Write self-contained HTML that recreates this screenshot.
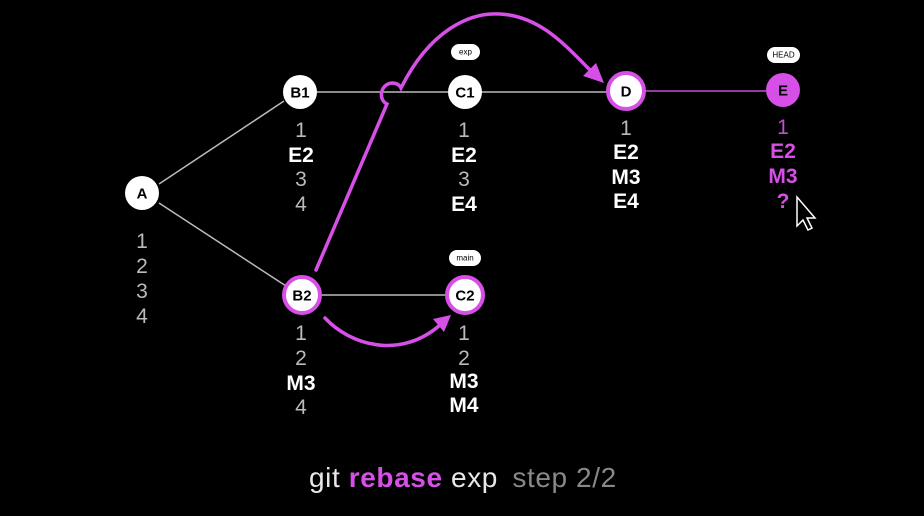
<!DOCTYPE html>
<html><head><meta charset="utf-8"><style>
html,body{margin:0;padding:0;background:#000;width:924px;height:516px;overflow:hidden}
svg{display:block}
text{font-family:"Liberation Sans",sans-serif}
.n{font-weight:bold;font-size:15px;fill:#000;text-anchor:middle;dominant-baseline:central}
.l{font-size:21px;fill:#bbb;text-anchor:middle;font-weight:normal}
.b{font-size:21px;fill:#fff;text-anchor:middle;font-weight:bold}
.p{font-size:21px;fill:#d64fe6;text-anchor:middle;font-weight:bold}
.tag{font-size:8px;fill:#000;text-anchor:middle;dominant-baseline:central}
</style></head><body>
<svg width="924" height="516" viewBox="0 0 924 516">
<rect width="924" height="516" fill="#000"/>
<g stroke="#bbb" stroke-width="1.5" fill="none">
<line x1="159" y1="184" x2="284" y2="101"/>
<line x1="159" y1="203" x2="286" y2="286"/>
<line x1="317" y1="92" x2="448" y2="92"/>
<line x1="482" y1="92" x2="608" y2="92"/>
<line x1="320" y1="295" x2="447" y2="295"/>
</g>
<line x1="644" y1="91" x2="766" y2="91" stroke="#c050d0" stroke-width="1.5"/>
<g stroke="#d64fe6" stroke-width="3.5" fill="none" stroke-linecap="round">
<path d="M316 270 L387 104 C378 100 380 84 392 83 C398 83 400 86 401 88 C430 30 470 12 500 14 C540 16 565 45 592 72"/>
<path d="M325 318 C350 345 400 360 440 325"/>
</g>
<polygon points="604,83 583,76 596,63" fill="#d64fe6"/>
<polygon points="451,315 433,319 444,332" fill="#d64fe6"/>
<g fill="#fff">
<circle cx="142" cy="193" r="17"/>
<circle cx="300" cy="92" r="17"/>
<circle cx="465" cy="92" r="17"/>
</g>
<g fill="#fff" stroke="#d64fe6" stroke-width="4">
<circle cx="626" cy="91" r="18"/>
<circle cx="302" cy="295" r="18"/>
<circle cx="465" cy="295" r="18"/>
</g>
<circle cx="783" cy="90" r="17" fill="#d64fe6"/>
<text class="n" x="142" y="194">A</text>
<text class="n" x="300" y="93">B1</text>
<text class="n" x="465" y="93">C1</text>
<text class="n" x="626" y="92">D</text>
<text class="n" x="783" y="91">E</text>
<text class="n" x="302" y="296">B2</text>
<text class="n" x="465" y="296">C2</text>
<rect x="451" y="44" width="29" height="16" rx="8" fill="#fff"/><text class="tag" x="465.5" y="52">exp</text>
<rect x="449" y="250" width="32" height="16" rx="8" fill="#fff"/><text class="tag" x="465" y="258">main</text>
<rect x="767" y="47" width="33" height="16" rx="8" fill="#fff"/><text class="tag" x="783.5" y="55">HEAD</text>
<text class="l" x="142" y="248">1</text><text class="l" x="142" y="273">2</text><text class="l" x="142" y="298">3</text><text class="l" x="142" y="323">4</text>
<text class="l" x="301" y="137">1</text><text class="b" x="301" y="162">E2</text><text class="l" x="301" y="186">3</text><text class="l" x="301" y="211">4</text>
<text class="l" x="464" y="137">1</text><text class="b" x="464" y="162">E2</text><text class="l" x="464" y="186">3</text><text class="b" x="464" y="211">E4</text>
<text class="l" x="626" y="135">1</text><text class="b" x="626" y="159">E2</text><text class="b" x="626" y="184">M3</text><text class="b" x="626" y="208">E4</text>
<text class="l" x="783" y="134" style="fill:#c050d0">1</text><text class="p" x="783" y="158">E2</text><text class="p" x="783" y="183">M3</text><text class="p" x="783" y="208">?</text>
<text class="l" x="301" y="340">1</text><text class="l" x="301" y="365">2</text><text class="b" x="301" y="390">M3</text><text class="l" x="301" y="414">4</text>
<text class="l" x="464" y="340">1</text><text class="l" x="464" y="365">2</text><text class="b" x="464" y="388">M3</text><text class="b" x="464" y="412">M4</text>
<path d="M797 197 L797 226 L803 220 L808 230 L812 228 L807 218 L815 218 Z" fill="#000" stroke="#fff" stroke-width="1.5"/>
<text x="309" y="487" style="font-size:28px;fill:#e8e8e8;letter-spacing:0.6px">git <tspan style="fill:#d64fe6;font-weight:bold">rebase</tspan> exp <tspan style="fill:#888" dx="6">step 2/2</tspan></text>
</svg>
</body></html>
